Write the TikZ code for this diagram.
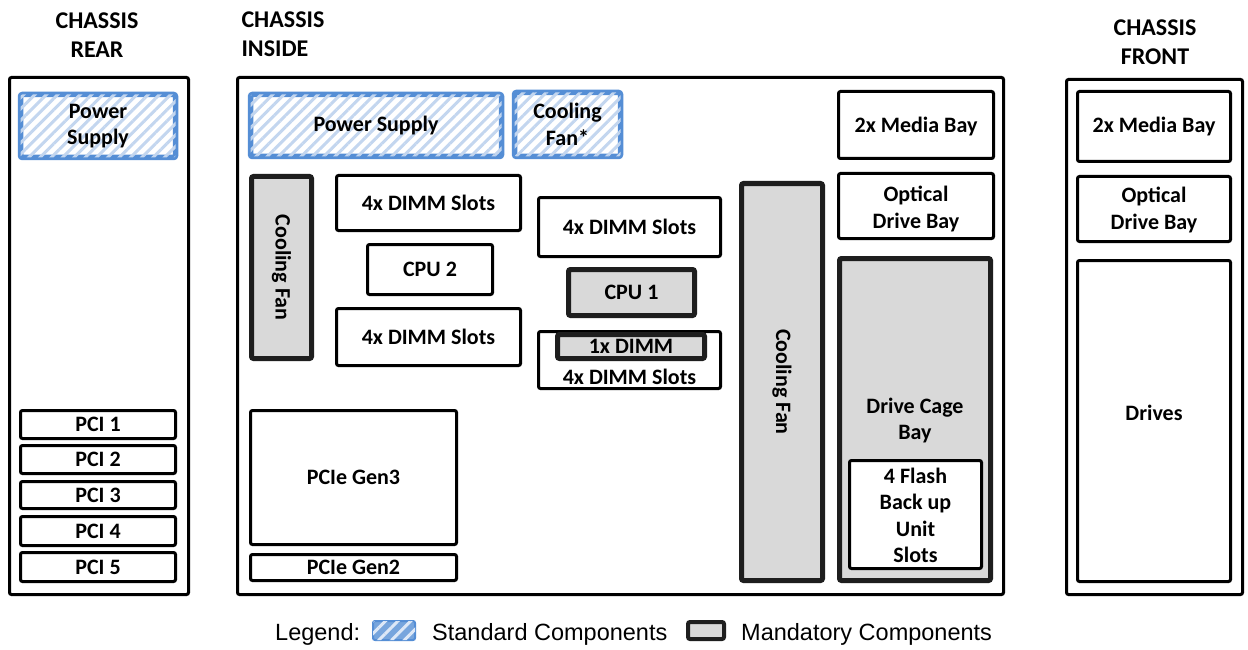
\documentclass[tikz,border=0pt]{standalone}
\usepackage{fontspec}
\setmainfont{Carlito}
\newfontfamily\arialfont{Liberation Sans}
\usetikzlibrary{fit,patterns.meta}
\definecolor{stdblue}{HTML}{558ED5}
\definecolor{hatchblue}{HTML}{C3D6EF}
\definecolor{mandgray}{HTML}{D9D9D9}
\definecolor{darkline}{HTML}{1E1E1E}
\tikzset{
 lbl/.style={font=\bfseries\fontsize{22}{26.5}\selectfont, align=center, inner sep=0pt},
 txt/.style={label={[lbl]center:#1}},
 head/.style={font=\bfseries\fontsize{24}{29}\selectfont, align=center},
 legtxt/.style={font=\arialfont\fontsize{23.5}{26}\selectfont, anchor=west, inner sep=0pt},
 chassis/.style={draw=black, line width=3pt, rounded corners=2pt, inner sep=0pt, fill=white},
 wbox/.style={draw=black, line width=3pt, rounded corners=2pt, inner sep=0pt, fill=white},
 std/.style={draw=stdblue, line width=5.5pt, rounded corners=2pt, inner sep=0pt, fill=white,
   postaction={pattern={Lines[angle=45,distance=8pt,line width=3pt]}, pattern color=hatchblue}},
 mand/.style={draw=darkline, line width=5pt, rounded corners=2pt, inner sep=0pt, fill=mandgray},
}
\begin{document}
\begin{tikzpicture}[x=1pt,y=-1pt]
\useasboundingbox[fill=white] (0,0) rectangle (1248,650);

% headers
\node[head] (hrear) at (97,35) {CHASSIS\\REAR};
\node[head, align=left, anchor=west] (hin) at (238,34) {CHASSIS\\INSIDE};
\node[head] (hfront) at (1155,42) {CHASSIS\\FRONT};

% chassis outlines
\node[chassis, fit={(9.5,77.5) (188.5,594.5)}] (rear) {};
\node[chassis, fit={(237.5,77.5) (1003.5,594.5)}] (inside) {};
\node[chassis, fit={(1066.5,79.5) (1242.5,594.5)}] (front) {};

% rear
\node[std, fit={(20.5,94.5) (175.5,157.5)}, txt={Power\\Supply}] (psr) {};
\node[wbox, fit={(20.5,410.5) (175.5,438.5)}, txt={PCI 1}] (pci1) {};
\node[wbox, fit={(20.5,445.5) (175.5,473.5)}, txt={PCI 2}] (pci2) {};
\node[wbox, fit={(20.5,481.5) (175.5,508.5)}, txt={PCI 3}] (pci3) {};
\node[wbox, fit={(20.5,516.5) (175.5,545.5)}, txt={PCI 4}] (pci4) {};
\node[wbox, fit={(20.5,552.5) (175.5,581.5)}, txt={PCI 5}] (pci5) {};

% inside
\node[std, fit={(250.5,94.5) (501.5,156.5)}, txt={Power Supply}] (psi) {};
\node[std, fit={(514.5,92.5) (620.5,156.5)}, txt={Cooling\\Fan*}] (fanstar) {};
\node[mand, fit={(251.5,176.5) (311.5,358.5)}, label={[lbl,rotate=-90]center:Cooling Fan}] (fanl) {};
\node[wbox, fit={(336.5,175.5) (520.5,230.5)}, txt={4x DIMM Slots}] (dimm1) {};
\node[wbox, fit={(367.5,244.5) (492.5,294.5)}, txt={CPU 2}] (cpu2) {};
\node[wbox, fit={(336.5,308.5) (520.5,365.5)}, txt={4x DIMM Slots}] (dimm2) {};
\node[wbox, fit={(538.5,197.5) (720.5,256.5)}, txt={4x DIMM Slots}] (dimm3) {};
\node[mand, fit={(568.5,269.5) (694.5,315.5)}, txt={CPU 1}] (cpu1) {};
\node[wbox, fit={(538.5,331.5) (720.5,388.5)}, label={[lbl,anchor=base,yshift=6pt]south:4x DIMM Slots}] (dimm4) {};
\node[mand, fit={(557.5,334.5) (704.5,358.5)}, txt={1x DIMM}] (dimm1x) {};
\node[wbox, fit={(250.5,410.5) (456.5,544.5)}, txt={PCIe Gen3}] (gen3) {};
\node[wbox, fit={(250.5,554.5) (456.5,580.5)}, txt={PCIe Gen2}] (gen2) {};
\node[mand, fit={(741.5,183.5) (822.5,580.5)}, label={[lbl,rotate=-90]center:Cooling Fan}] (fanc) {};
\node[wbox, fit={(838.5,91.5) (993.5,158.5)}, label={[lbl,yshift=-2pt]center:2x Media Bay}] (mediai) {};
\node[wbox, fit={(838.5,173.5) (993.5,238.5)}, label={[lbl,yshift=-3pt]center:Optical\\Drive Bay}] (optii) {};
\node[mand, fit={(839.5,258.5) (990.5,580.5)}, label={[lbl,yshift=-1pt]center:Drive Cage\\Bay}] (cage) {};
\node[wbox, fit={(849.5,460.5) (981.5,568.5)}, label={[lbl,yshift=-1pt]center:4 Flash\\Back up\\Unit\\Slots}] (flash) {};

% front
\node[wbox, fit={(1077.5,91.5) (1230.5,161.5)}, txt={2x Media Bay}] (mediaf) {};
\node[wbox, fit={(1077.5,176.5) (1230.5,241.5)}, label={[lbl,yshift=-1pt]center:Optical\\Drive Bay}] (optif) {};
\node[wbox, fit={(1077.5,260.5) (1230.5,581.5)}, label={[lbl,yshift=8pt]center:Drives}] (drives) {};

% legend
\node[legtxt] (legend) at (275,634) {Legend:};
\node[draw=stdblue, line width=2pt, rounded corners=2pt, inner sep=0pt, fill=stdblue!80,
  postaction={pattern={Lines[angle=45,distance=9pt,line width=3pt]}, pattern color=white!80!stdblue},
  fit={(373,621) (415,640)}] (swstd) {};
\node[legtxt] (lstd) at (432,634) {Standard Components};
\node[draw=darkline, line width=4pt, rounded corners=2pt, inner sep=0pt, fill=mandgray,
  fit={(688,622) (724,639)}] (swmand) {};
\node[legtxt] (lmand) at (741,634) {Mandatory Components};
\end{tikzpicture}
\end{document}
